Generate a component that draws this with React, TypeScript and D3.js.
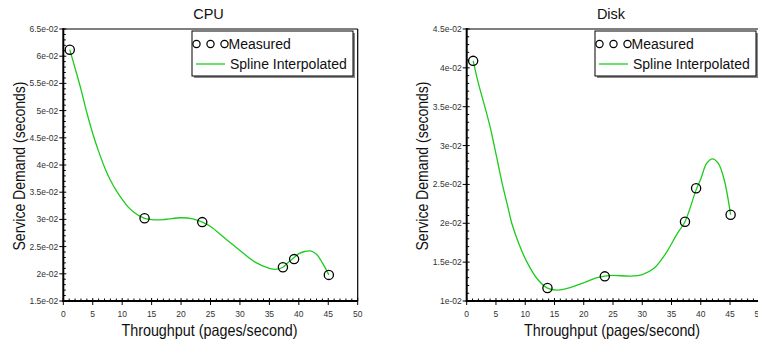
import React from "react";
import * as d3 from "d3";

const measuredX = [1.1, 13.8, 23.6, 37.3, 39.2, 45.1];
const cpuMeasured = [0.0612, 0.0302, 0.0295, 0.0212, 0.0227, 0.0198];
const diskMeasured = [0.0409, 0.01167, 0.01317, 0.0202, 0.0245, 0.0211];

const cpuSplineX = [1.1, 2, 3, 4, 5, 6, 7, 8, 9, 10, 11, 12, 13, 13.8, 15, 16, 17, 18, 20, 22, 23.6, 25, 27.5, 30, 32.5, 35, 36, 37.3, 38, 39.2, 40, 41, 42, 43, 44, 45.1];
const cpuSplineY = [61.2, 57.8, 53.9, 49.6, 45.8, 42.5, 39.6, 37.2, 35.3, 33.7, 32.3, 31.3, 30.6, 30.2, 29.95, 29.9, 29.95, 30.1, 30.3, 30.1, 29.5, 28.7, 26.5, 24.3, 22.2, 21.0, 20.8, 21.2, 21.9, 23.0, 23.7, 24.1, 24.2, 23.6, 22.0, 19.8];

const diskSplineX = [1.1, 2, 3.1, 4, 4.7, 5.4, 6.1, 7, 7.7, 9, 10.3, 12, 13.8, 15.4, 17, 20, 22, 23.6, 25, 28, 30, 32, 34, 36, 37.3, 39.2, 40, 41, 42, 43, 44, 45.1];
const diskSplineY = [40.9, 38.0, 35.0, 32.4, 30.0, 27.5, 25.0, 22.2, 20.0, 17.2, 15.0, 12.9, 11.65, 11.4, 11.6, 12.35, 12.95, 13.2, 13.3, 13.2, 13.4, 14.2, 16.1, 18.7, 20.2, 24.3, 25.7, 27.7, 28.3, 27.7, 25.6, 21.1];

const xTicks = [0, 5, 10, 15, 20, 25, 30, 35, 40, 45, 50];
const cpuYTicks = [0.015, 0.02, 0.025, 0.03, 0.035, 0.04, 0.045, 0.05, 0.055, 0.06, 0.065];
const cpuYLabels = ["1.5e-02", "2e-02", "2.5e-02", "3e-02", "3.5e-02", "4e-02", "4.5e-02", "5e-02", "5.5e-02", "6e-02", "6.5e-02"];
const diskYTicks = [0.01, 0.015, 0.02, 0.025, 0.03, 0.035, 0.04, 0.045];
const diskYLabels = ["1e-02", "1.5e-02", "2e-02", "2.5e-02", "3e-02", "3.5e-02", "4e-02", "4.5e-02"];

const GREEN = "#1ccc1c";
const FONT = "Liberation Sans, Arial, sans-serif";

type PanelProps = {
  title: string;
  x0: number;
  x1: number;
  yDomain: [number, number];
  yTicks: number[];
  yLabels: string[];
  measured: number[];
  splineX: number[];
  splineY: number[];
  legendX: number;
};

function Panel(p: PanelProps) {
  const top = 29;
  const bottom = 301;
  const x = d3.scaleLinear().domain([0, 50]).range([p.x0, p.x1]);
  const y = d3.scaleLinear().domain(p.yDomain).range([bottom, top]);
  const line = d3
    .line<number>()
    .x((_, i) => x(p.splineX[i]))
    .y((d) => y(d / 1000))
    .curve(d3.curveCatmullRom.alpha(0.5));
  const minorX = d3.range(0, 51, 1).filter((v) => v % 5 !== 0);
  const step = 0.001;
  const nMinor = Math.round((p.yDomain[1] - p.yDomain[0]) / step);
  const minorY = d3.range(0, nMinor + 1).map((i) => p.yDomain[0] + i * step).filter((_, i) => i % 5 !== 0);
  const cx = (p.x0 + p.x1) / 2;
  const lx = p.legendX;
  return (
    <g>
      <text x={cx - 2} y={19} textAnchor="middle" fontFamily={FONT} fontSize={14.5} fill="#111">
        {p.title}
      </text>
      <line x1={p.x0} x2={p.x1} y1={top} y2={top} stroke="#000" strokeWidth={1.2} />
      <line x1={p.x1} x2={p.x1} y1={top} y2={bottom} stroke="#000" strokeWidth={1.2} />
      <path d={line(p.splineY) || ""} fill="none" stroke={GREEN} strokeWidth={1.3} />
      {p.measured.map((v, i) => (
        <circle key={i} cx={x(measuredX[i])} cy={y(v)} r={4.6} fill="none" stroke="#000" strokeWidth={1.3} />
      ))}
      <line x1={p.x0} x2={p.x0} y1={top - 1} y2={bottom + 1} stroke="#000" strokeWidth={2} />
      <line x1={p.x0 - 1} x2={p.x1} y1={bottom} y2={bottom} stroke="#000" strokeWidth={2} />
      {p.yTicks.map((t, i) => (
        <g key={"y" + i}>
          <line x1={p.x0 - 4} x2={p.x0 + 3} y1={y(t)} y2={y(t)} stroke="#000" strokeWidth={1} />
          <text x={p.x0 - 5} y={y(t) + 3} textAnchor="end" fontFamily={FONT} fontSize={8.5} fill="#333">
            {p.yLabels[i]}
          </text>
        </g>
      ))}
      {minorY.map((t, i) => (
        <line key={"my" + i} x1={p.x0} x2={p.x0 + 2.5} y1={y(t)} y2={y(t)} stroke="#000" strokeWidth={1} />
      ))}
      {xTicks.map((t, i) => (
        <g key={"x" + i}>
          <line x1={x(t)} x2={x(t)} y1={bottom - 3} y2={bottom + 4} stroke="#000" strokeWidth={1} />
          <text x={x(t)} y={317} textAnchor="middle" fontFamily={FONT} fontSize={8.5} fill="#333">
            {t}
          </text>
        </g>
      ))}
      {minorX.map((t, i) => (
        <line key={"mx" + i} x1={x(t)} x2={x(t)} y1={bottom} y2={bottom - 2.5} stroke="#000" strokeWidth={1} />
      ))}
      <text
        transform={`translate(${cx - 1},${336}) scale(0.87,1)`}
        textAnchor="middle"
        fontFamily={FONT}
        fontSize={16.5}
        fill="#111"
      >
        Throughput (pages/second)
      </text>
      <text
        transform={`translate(${p.x0 - 38.5},${166}) rotate(-90) scale(0.85,1)`}
        textAnchor="middle"
        fontFamily={FONT}
        fontSize={16.5}
        fill="#111"
      >
        Service Demand (seconds)
      </text>
      <rect x={lx + 2} y={33} width={161} height={45} fill="#888" />
      <rect x={lx} y={31} width={161} height={45} fill="#fff" stroke="#000" strokeWidth={1} />
      {[4.5, 18.5, 32.5].map((dx, i) => (
        <circle key={"lc" + i} cx={lx + dx} cy={44} r={3.6} fill="none" stroke="#000" strokeWidth={1.2} />
      ))}
      <text x={lx + 36.5} y={49} fontFamily={FONT} fontSize={14} fill="#111">
        Measured
      </text>
      <line x1={lx + 4} x2={lx + 33} y1={64} y2={64} stroke={GREEN} strokeWidth={1.3} />
      <text x={lx + 38} y={69} fontFamily={FONT} fontSize={14} fill="#111">
        Spline Interpolated
      </text>
    </g>
  );
}

export default function App() {
  return (
    <svg width={758} height={343} style={{ position: "absolute", left: 0, top: 0, background: "#fff" }}>
      <rect x={0} y={0} width={758} height={343} fill="#fff" />
      <Panel
        title="CPU"
        x0={63.3}
        x1={357.7}
        yDomain={[0.015, 0.065]}
        yTicks={cpuYTicks}
        yLabels={cpuYLabels}
        measured={cpuMeasured}
        splineX={cpuSplineX}
        splineY={cpuSplineY}
        legendX={192}
      />
      <Panel
        title="Disk"
        x0={466.7}
        x1={759.3}
        yDomain={[0.01, 0.045]}
        yTicks={diskYTicks}
        yLabels={diskYLabels}
        measured={diskMeasured}
        splineX={diskSplineX}
        splineY={diskSplineY}
        legendX={595}
      />
    </svg>
  );
}
